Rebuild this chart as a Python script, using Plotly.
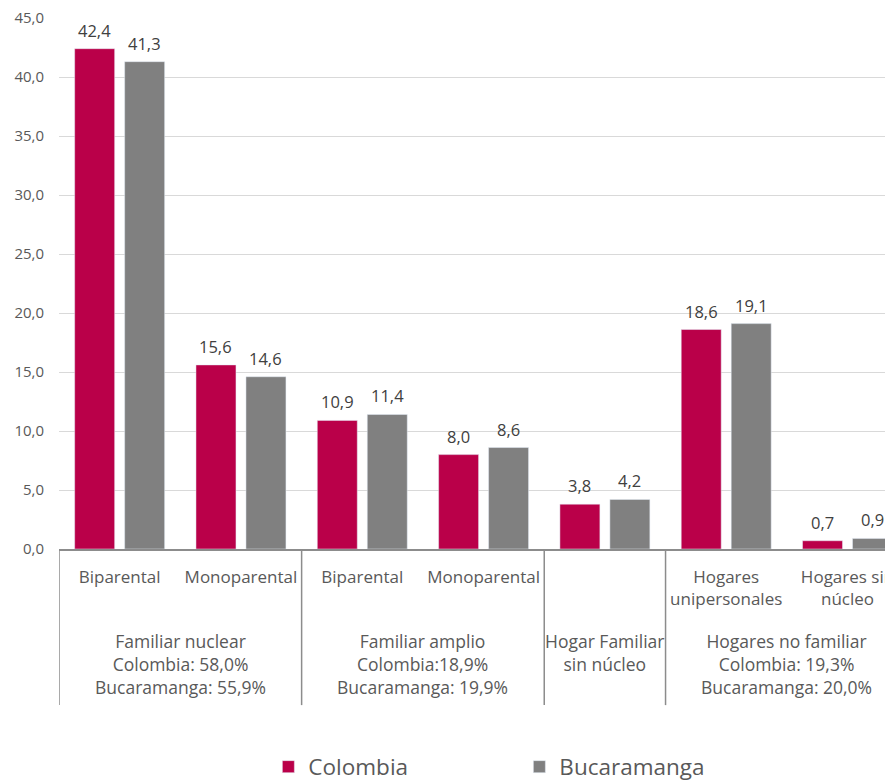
import plotly.graph_objects as go

subcats = ["Biparental", "Monoparental", "Biparental", "Monoparental", "",
           "Hogares<br>unipersonales", "Hogares sin<br>núcleo"]
colombia = [42.4, 15.6, 10.9, 8.0, 3.8, 18.6, 0.7]
bucaramanga = [41.3, 14.6, 11.4, 8.6, 4.2, 19.1, 0.9]
groups = ["Familiar nuclear<br>Colombia: 58,0%<br>Bucaramanga: 55,9%",
          "Familiar amplio<br>Colombia:18,9%<br>Bucaramanga: 19,9%",
          "Hogar Familiar<br>sin núcleo",
          "Hogares no familiar<br>Colombia: 19,3%<br>Bucaramanga: 20,0%"]
group_spans = [(0, 1), (2, 3), (4, 4), (5, 6)]
yticks = [0, 5, 10, 15, 20, 25, 30, 35, 40, 45]

C_COL = "#BA0049"
C_BUC = "#808080"
TXT = "#595959"
FONT = "Open Sans"

# the page body has an 8px default margin, so the figure is offset to compensate
W, H = 893, 782

x = list(range(len(subcats)))
bargap = 0.176
off = (1 - bargap) / 4

fig = go.Figure()
fig.add_bar(x=x, y=colombia, name="Colombia", marker_color=C_COL)
fig.add_bar(x=x, y=bucaramanga, name="Bucaramanga", marker_color=C_BUC)

def fmt(v):
    return f"{v:.1f}".replace(".", ",")

ann = []
for i in x:
    for vals, sgn in ((colombia, -1), (bucaramanga, 1)):
        ann.append(dict(x=i + sgn * off, y=vals[i], xref="x", yref="y", text=fmt(vals[i]),
                        showarrow=False, yanchor="bottom", yshift=5,
                        font=dict(family=FONT, size=16.5, color="#404040")))

for g, (a, b) in zip(groups, group_spans):
    ann.append(dict(x=(a + b) / 2, y=-0.146, xref="x", yref="paper", text=g, showarrow=False,
                    yanchor="top", align="center",
                    font=dict(family=FONT, size=17.5, color=TXT)))

shapes = []
for xb in [-0.5, 1.5, 3.5, 4.5, 6.5]:
    shapes.append(dict(type="line", xref="x", yref="paper", x0=xb, x1=xb, y0=0, y1=-0.294,
                       line=dict(color="#8C8C8C", width=1.5)))

fig.update_layout(
    width=W, height=H, autosize=False,
    margin=dict(l=51, r=8, t=10, b=241, autoexpand=False),
    plot_bgcolor="white", paper_bgcolor="white",
    barmode="group", bargap=bargap, bargroupgap=0.2,
    separators=",.",
    font=dict(family=FONT, color=TXT),
    annotations=ann, shapes=shapes,
    legend=dict(orientation="h", x=0.552, xanchor="center", yref="container",
                y=1 - 759 / H, yanchor="middle",
                font=dict(family=FONT, size=22.5, color=TXT), entrywidth=206,
                entrywidthmode="pixels"),
    xaxis=dict(range=[-0.5, 6.375], tickvals=x, ticktext=subcats, showgrid=False,
               showline=True, linecolor="#8C8C8C", linewidth=1.5, ticks="",
               tickfont=dict(family=FONT, size=17, color=TXT), ticklabelstandoff=12,
               ticklabeloverflow="allow", zeroline=False, automargin=False),
    yaxis=dict(range=[0, 45], tickvals=yticks, tickformat=".1f", showgrid=True,
               gridcolor="#D9D9D9", gridwidth=1, zeroline=False, showline=False,
               tickfont=dict(family=FONT, size=15, color=TXT), ticklabelstandoff=14,
               ticklabeloverflow="allow", automargin=False),
)

fig.write_html("out.html")
